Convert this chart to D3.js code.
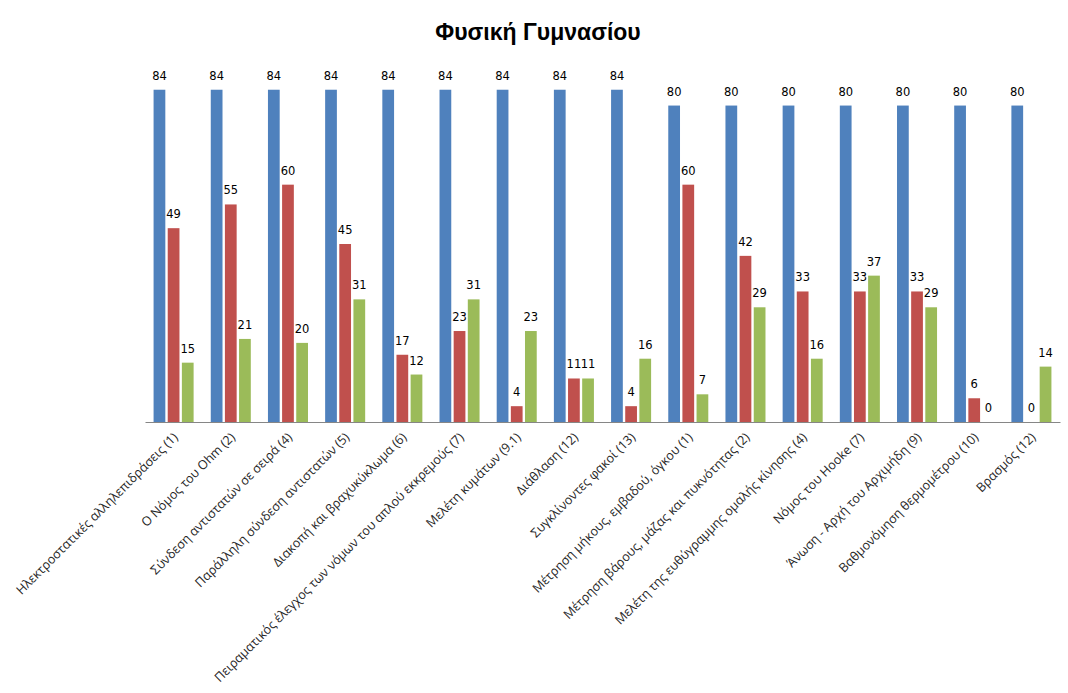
<!DOCTYPE html>
<html><head><meta charset="utf-8">
<script src="https://cdn.jsdelivr.net/npm/d3@7/dist/d3.min.js"></script>
<style>
html,body{margin:0;padding:0;background:#fff;}
svg{display:block;}
</style></head>
<body>
<svg id="chart" width="1068" height="693"></svg>
<script>
const categories = [
  "Ηλεκτροστατικές αλληλεπιδράσεις (1)",
  "Ο Νόμος του Ohm (2)",
  "Σύνδεση αντιστατών σε σειρά (4)",
  "Παράλληλη σύνδεση αντιστατών (5)",
  "Διακοπή και βραχυκύκλωμα (6)",
  "Πειραματικός έλεγχος των νόμων του απλού εκκρεμούς (7)",
  "Μελέτη κυμάτων (9.1)",
  "Διάθλαση (12)",
  "Συγκλίνοντες φακοί (13)",
  "Μέτρηση μήκους, εμβαδού, όγκου (1)",
  "Μέτρηση βάρους, μάζας και πυκνότητας (2)",
  "Μελέτη της ευθύγραμμης ομαλής κίνησης (4)",
  "Νόμος του Hooke (7)",
  "Άνωση - Αρχή του Αρχιμήδη (9)",
  "Βαθμονόμηση θερμομέτρου (10)",
  "Βρασμός (12)"
];
const series1 = [84, 84, 84, 84, 84, 84, 84, 84, 84, 80, 80, 80, 80, 80, 80, 80];
const series2 = [49, 55, 60, 45, 17, 23, 4, 11, 4, 60, 42, 33, 33, 33, 6, 0];
const series3 = [15, 21, 20, 31, 12, 31, 23, 11, 16, 7, 29, 16, 37, 29, 0, 14];
const seriesKeys = ["s1", "s2", "s3"];
const seriesColors = ["#4F81BD", "#C0504D", "#9BBB59"];
const titleText = "Φυσική Γυμνασίου";

const table = categories.map((c, i) => ({cat: c, s1: series1[i], s2: series2[i], s3: series3[i]}));

const svg = d3.select("#chart");
const mLeft = 145, mRight = 1060, mBottom = 422, mTop = 66;

const x = d3.scaleBand().domain(categories).range([mLeft, mRight]).paddingInner(0.3).paddingOuter(0.15);
const xs = d3.scaleBand().domain(seriesKeys).range([0, x.bandwidth()]).paddingInner(0.17).paddingOuter(0);
const y = d3.scaleLinear().domain([0, 90]).range([mBottom, mTop]);
const color = d3.scaleOrdinal().domain(seriesKeys).range(seriesColors);

svg.append("text")
  .attr("x", 538).attr("y", 40)
  .attr("text-anchor", "middle")
  .attr("font-family", "'Liberation Sans', Arial, sans-serif")
  .attr("font-weight", "bold")
  .attr("font-size", 23)
  .attr("fill", "#000")
  .text(titleText);

const groups = svg.append("g").selectAll("g")
  .data(table).join("g")
  .attr("transform", d => `translate(${x(d.cat)},0)`);

groups.selectAll("rect")
  .data(d => seriesKeys.map(k => ({key: k, value: d[k]})))
  .join("rect")
  .attr("x", d => xs(d.key))
  .attr("width", xs.bandwidth())
  .attr("y", d => y(d.value))
  .attr("height", d => y(0) - y(d.value))
  .attr("fill", d => color(d.key));

groups.selectAll("text.val")
  .data(d => seriesKeys.map(k => ({key: k, value: d[k]})))
  .join("text")
  .attr("class", "val")
  .attr("x", d => xs(d.key) + xs.bandwidth() / 2)
  .attr("y", d => y(d.value) - 10)
  .attr("text-anchor", "middle")
  .attr("font-family", "'DejaVu Sans', Verdana, sans-serif")
  .attr("font-size", 11.5)
  .attr("fill", "#000")
  .text(d => d.value);

// x axis
const xAxis = d3.axisBottom(x).tickSize(0).tickPadding(0);
const ax = svg.append("g").attr("transform", `translate(0,${mBottom})`).call(xAxis);
ax.select(".domain").attr("stroke", "#868686").attr("stroke-width", 1.2);
ax.selectAll(".tick text")
  .attr("font-family", "'Open Sans', 'Liberation Sans', sans-serif")
  .attr("font-size", 12.6)
  .attr("fill", "#262626")
  .attr("text-anchor", "end")
  .attr("dy", 0)
  .attr("transform", "translate(5,16) rotate(-45)");
</script>
</body></html>
